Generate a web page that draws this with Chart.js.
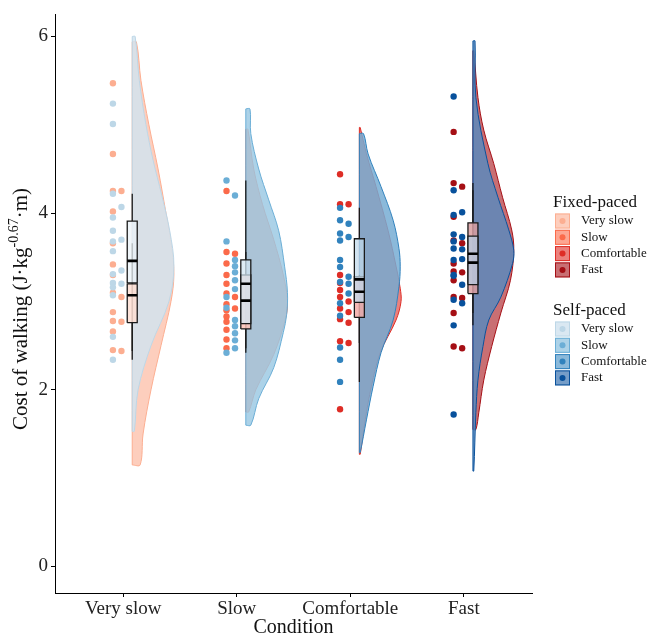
<!DOCTYPE html>
<html>
<head>
<meta charset="utf-8">
<script src="https://cdn.jsdelivr.net/npm/chart.js@4.4.0/dist/chart.umd.min.js"></script>
<style>
  html, body { margin: 0; padding: 0; background: #fff; }
  #wrap { width: 650px; height: 640px; }
</style>
</head>
<body>
<div id="wrap"><canvas id="chart" width="650" height="640"></canvas></div>
<script>
const conditions = ['Very slow', 'Slow', 'Comfortable', 'Fast'];
const yTicks = [0, 2, 4, 6];
const groupNames = ['Fixed-paced', 'Self-paced'];
const fixedColors = ['#FCAE91', '#FB6A4A', '#DE2D26', '#A50F15'];
const selfColors = ['#BDD7E7', '#6BAED6', '#3182BD', '#08519C'];

// individual values
const fixedValues = [
    [5.47, 4.67, 4.25, 4.25, 4.02, 3.66, 3.42, 3.30, 3.10, 3.05, 2.88, 2.78, 2.77, 2.66, 2.45, 2.44],
    [4.25, 3.56, 3.54, 3.43, 3.30, 3.20, 3.09, 3.05, 2.97, 2.92, 2.90, 2.83, 2.77, 2.68, 2.57, 2.47],
    [4.44, 4.10, 4.10, 3.30, 3.21, 3.13, 3.05, 3.00, 2.92, 2.88, 2.80, 2.76, 2.55, 2.53, 1.78],
    [4.92, 4.34, 4.30, 3.96, 3.69, 3.66, 3.43, 3.34, 3.33, 3.24, 3.05, 3.04, 2.87, 2.49, 2.47]
];
const selfValues = [
    [5.24, 5.01, 4.22, 4.07, 3.95, 3.80, 3.70, 3.68, 3.57, 3.35, 3.31, 3.21, 3.20, 3.16, 3.07, 2.60, 2.34],
    [4.37, 4.20, 3.68, 3.47, 3.40, 3.33, 3.24, 3.14, 3.05, 2.93, 2.79, 2.72, 2.64, 2.56, 2.47, 2.42],
    [4.06, 3.92, 3.88, 3.77, 3.73, 3.69, 3.47, 3.39, 3.28, 3.22, 3.20, 3.09, 2.98, 2.84, 2.48, 2.34, 2.09],
    [5.32, 4.26, 4.01, 3.98, 3.76, 3.73, 3.68, 3.60, 3.59, 3.48, 3.47, 3.30, 3.29, 3.19, 3.02, 2.98, 2.73, 1.72]
];

// box stats: [lower whisker, q1, median, q3, upper whisker]
const fixedBoxes = [
    [2.44, 2.76, 3.07, 3.20, 3.66],
    [2.47, 2.69, 3.01, 3.30, 3.56],
    [2.53, 2.82, 3.11, 3.28, 3.30],
    [2.87, 3.09, 3.44, 3.89, 4.34]
];
const selfBoxes = [
    [2.34, 3.21, 3.46, 3.91, 4.22],
    [2.42, 2.75, 3.20, 3.47, 4.37],
    [2.09, 2.99, 3.25, 3.71, 4.06],
    [2.73, 3.19, 3.54, 3.74, 4.26]
];

// half-violin outlines: y values and relative density (1 = widest)
const fixedViolinY = [
    [1.15, 1.5, 2.0, 2.5, 3.0, 3.3, 3.6, 4.0, 4.5, 5.0, 5.5, 5.94],
    [1.75, 2.0, 2.4, 2.8, 3.0, 3.3, 3.7, 4.1, 4.5, 4.95],
    [1.27, 1.66, 2.04, 2.42, 2.79, 3.0, 3.15, 3.4, 3.8, 4.3, 4.67, 4.97],
    [1.55, 1.74, 2.11, 2.49, 2.87, 3.24, 3.58, 3.81, 4.18, 4.56, 4.94, 5.31, 5.84]
];
const fixedViolinD = [
    [0.19, 0.26, 0.45, 0.69, 0.93, 1.0, 0.95, 0.81, 0.62, 0.40, 0.21, 0.10],
    [0.07, 0.24, 0.67, 0.95, 1.0, 0.90, 0.67, 0.40, 0.19, 0.05],
    [0.02, 0.14, 0.29, 0.50, 0.88, 1.0, 0.98, 0.88, 0.69, 0.40, 0.17, 0.02],
    [0.07, 0.14, 0.26, 0.45, 0.67, 0.90, 0.98, 0.93, 0.71, 0.50, 0.26, 0.12, 0.02]
];
const selfViolinY = [
    [1.53, 2.0, 2.5, 3.0, 3.4, 3.8, 4.2, 4.6, 5.0, 5.5, 6.0],
    [1.60, 1.9, 2.25, 2.65, 2.85, 3.1, 3.4, 3.8, 4.15, 4.5, 4.9, 5.18],
    [1.29, 1.66, 2.04, 2.42, 2.79, 3.17, 3.4, 3.6, 3.92, 4.3, 4.67, 4.9],
    [1.08, 1.74, 2.11, 2.49, 2.79, 3.05, 3.43, 3.58, 3.81, 4.18, 4.56, 5.31, 5.95]
];
const selfViolinD = [
    [0.05, 0.14, 0.45, 0.88, 1.0, 0.90, 0.71, 0.50, 0.33, 0.17, 0.07],
    [0.12, 0.31, 0.67, 0.90, 0.98, 1.0, 0.93, 0.79, 0.55, 0.31, 0.12, 0.10],
    [0.02, 0.17, 0.33, 0.52, 0.81, 0.95, 0.98, 0.95, 0.81, 0.52, 0.21, 0.10],
    [0.02, 0.07, 0.12, 0.24, 0.38, 0.67, 0.95, 0.98, 0.86, 0.60, 0.36, 0.07, 0.05]
];

const VIOLIN_OFFSET = 0.08;
const VIOLIN_WIDTH = 0.367;
const DOT_OFFSET = -0.09;
const BOX_HALF = 0.044;
const FONT = '"Liberation Serif", "Times New Roman", serif';

function rgba(hex, a, light = 0) {
    const n = parseInt(hex.slice(1), 16);
    const ch = [n >> 16, (n >> 8) & 255, n & 255].map(v => Math.round(v + (255 - v) * light));
    return `rgba(${ch[0]}, ${ch[1]}, ${ch[2]}, ${a})`;
}

function violinShape(i, ys, ds) {
    const base = i + 1 + VIOLIN_OFFSET;
    const lo = ys[0], hi = ys[ys.length - 1];
    const pts = [{x: base, y: lo}, {x: base, y: lo}];
    ys.forEach((y, k) => pts.push({x: base + ds[k] * VIOLIN_WIDTH, y: y}));
    pts.push({x: base, y: hi}, {x: base, y: hi}, {x: base, y: lo}, {x: base, y: lo});
    return pts;
}

function boxShape(i, b) {
    const c = i + 1 + VIOLIN_OFFSET;
    return [
        {x: c - BOX_HALF, y: b[1]}, {x: c + BOX_HALF, y: b[1]},
        {x: c + BOX_HALF, y: b[3]}, {x: c - BOX_HALF, y: b[3]},
        {x: c - BOX_HALF, y: b[1]}
    ];
}

function whiskers(boxes) {
    const pts = [];
    boxes.forEach((b, i) => {
        const c = i + 1 + VIOLIN_OFFSET;
        pts.push({x: c, y: b[0]}, {x: c, y: b[1]}, {x: c, y: null});
        pts.push({x: c, y: b[3]}, {x: c, y: b[4]}, {x: c, y: null});
    });
    return pts;
}

function medians(boxes) {
    const pts = [];
    boxes.forEach((b, i) => {
        const c = i + 1 + VIOLIN_OFFSET;
        pts.push({x: c - BOX_HALF, y: b[2]}, {x: c + BOX_HALF, y: b[2]}, {x: c, y: null});
    });
    return pts;
}

// small dodge so that overlapping dots sit side by side
function placeDots(values, i, placed) {
    const x0 = i + 1 + DOT_OFFSET;
    const steps = [0, 0.04, -0.035, 0.075];
    return values.map(v => {
        for (const dx of steps) {
            const x = x0 + dx;
            if (!placed.some(p => Math.abs(p.x - x) < 0.05 && Math.abs(p.y - v) < 0.06)) {
                placed.push({x: x, y: v});
                return {x: x, y: v};
            }
        }
        placed.push({x: x0, y: v});
        return {x: x0, y: v};
    });
}

const fixedFill = c => rgba(c, 0.6);
const selfFill = c => rgba(c, 0.84, 0.33);

const datasets = [];
conditions.forEach((c, i) => {
    datasets.push({
        type: 'line', data: violinShape(i, fixedViolinY[i], fixedViolinD[i]),
        borderColor: fixedColors[i], backgroundColor: fixedFill(fixedColors[i]),
        borderWidth: 1, pointRadius: 0, fill: 'shape', tension: 0.35, order: 60
    });
    datasets.push({
        type: 'line', data: violinShape(i, selfViolinY[i], selfViolinD[i]),
        borderColor: selfColors[i], backgroundColor: selfFill(selfColors[i]),
        borderWidth: 1, pointRadius: 0, fill: 'shape', tension: 0.35, order: 50
    });
    datasets.push({
        type: 'line', data: boxShape(i, fixedBoxes[i]),
        borderColor: '#1a1a1a', backgroundColor: rgba(fixedColors[i], 0.85, 0.6),
        borderWidth: 1.3, pointRadius: 0, fill: 'shape', tension: 0, order: 30
    });
    datasets.push({
        type: 'line', data: boxShape(i, selfBoxes[i]),
        borderColor: '#1a1a1a', backgroundColor: rgba(selfColors[i], 0.75, 0.7),
        borderWidth: 1.3, pointRadius: 0, fill: 'shape', tension: 0, order: 20
    });
    const placed = [];
    datasets.push({
        type: 'scatter', data: placeDots(fixedValues[i], i, placed),
        backgroundColor: fixedColors[i], borderWidth: 0, pointRadius: 3.2, order: 5
    });
    datasets.push({
        type: 'scatter', data: placeDots(selfValues[i], i, placed),
        backgroundColor: selfColors[i], borderWidth: 0, pointRadius: 3.2, order: 4
    });
});
[fixedBoxes, selfBoxes].forEach(boxes => {
    datasets.push({
        type: 'line', data: whiskers(boxes), borderColor: '#1a1a1a', borderWidth: 1.3,
        pointRadius: 0, fill: false, spanGaps: false, order: 40
    });
    datasets.push({
        type: 'line', data: medians(boxes), borderColor: '#000', borderWidth: 2.6,
        pointRadius: 0, fill: false, spanGaps: false, order: 10
    });
});

const decorations = {
    id: 'decorations',
    afterDraw(chart) {
        const ctx = chart.ctx;
        const area = chart.chartArea;
        ctx.save();
        ctx.fillStyle = '#111';
        ctx.textBaseline = 'middle';

        // x title
        ctx.font = '20px ' + FONT;
        ctx.textAlign = 'center';
        ctx.fillText('Condition', (area.left + area.right) / 2, 628);

        // y title with superscript
        const parts = ['Cost of walking (J\u00b7kg', '-0.67', '\u00b7m)'];
        const mainFont = '21px ' + FONT, supFont = '14px ' + FONT;
        ctx.font = mainFont; const w0 = ctx.measureText(parts[0]).width;
        const w2 = ctx.measureText(parts[2]).width;
        ctx.font = supFont; const w1 = ctx.measureText(parts[1]).width;
        const total = w0 + w1 + w2;
        ctx.translate(21, 309);
        ctx.rotate(-Math.PI / 2);
        ctx.textAlign = 'left';
        let x = -total / 2;
        ctx.font = mainFont; ctx.fillText(parts[0], x, 0); x += w0;
        ctx.font = supFont; ctx.fillText(parts[1], x, -7); x += w1;
        ctx.font = mainFont; ctx.fillText(parts[2], x, 0);
        ctx.setTransform(1, 0, 0, 1, 0, 0);

        // legend
        const groups = [fixedColors, selfColors];
        const fills = [fixedFill, selfFill];
        const titleY = [203, 311];
        groups.forEach((cols, g) => {
            ctx.font = '17px ' + FONT;
            ctx.textAlign = 'left';
            ctx.fillStyle = '#111';
            ctx.fillText(groupNames[g], 553, titleY[g]);
            cols.forEach((col, k) => {
                const cy = titleY[g] + 18 + k * 16.3;
                ctx.fillStyle = fills[g](col);
                ctx.fillRect(555, cy - 7.5, 15, 15);
                ctx.strokeStyle = col;
                ctx.lineWidth = 1;
                ctx.strokeRect(555.5, cy - 7, 14, 14);
                ctx.beginPath();
                ctx.arc(562.5, cy, 3, 0, Math.PI * 2);
                ctx.fillStyle = col;
                ctx.fill();
                ctx.fillStyle = '#111';
                ctx.font = '13px ' + FONT;
                ctx.fillText(conditions[k], 581, cy);
            });
        });
        ctx.restore();
    }
};

new Chart(document.getElementById('chart'), {
    type: 'scatter',
    data: { datasets: datasets },
    options: {
        responsive: false,
        animation: false,
        devicePixelRatio: 1,
        layout: { padding: { left: 0, right: 118, top: 14, bottom: 0 } },
        plugins: { legend: { display: false }, tooltip: { enabled: false } },
        scales: {
            x: {
                type: 'linear', min: 0.4, max: 4.6,
                afterBuildTicks: s => { s.ticks = conditions.map((c, i) => ({value: i + 1})); },
                afterFit: s => { s.height = 47; },
                ticks: {
                    callback: v => conditions[v - 1] || '',
                    font: { family: FONT, size: 19 }, color: '#222',
                    padding: 1, maxRotation: 0, autoSkip: false
                },
                grid: { display: true, drawOnChartArea: false, drawTicks: true, tickLength: 4, color: '#000' },
                border: { display: true, color: '#000', width: 1 }
            },
            y: {
                min: -0.3, max: 6.25,
                afterBuildTicks: s => { s.ticks = yTicks.map(v => ({value: v})); },
                afterFit: s => { s.width = 55; },
                ticks: { font: { family: FONT, size: 19 }, color: '#222', padding: 3 },
                grid: { display: true, drawOnChartArea: false, drawTicks: true, tickLength: 4, color: '#000' },
                border: { display: true, color: '#000', width: 1 }
            }
        }
    },
    plugins: [decorations]
});
</script>
</body>
</html>
